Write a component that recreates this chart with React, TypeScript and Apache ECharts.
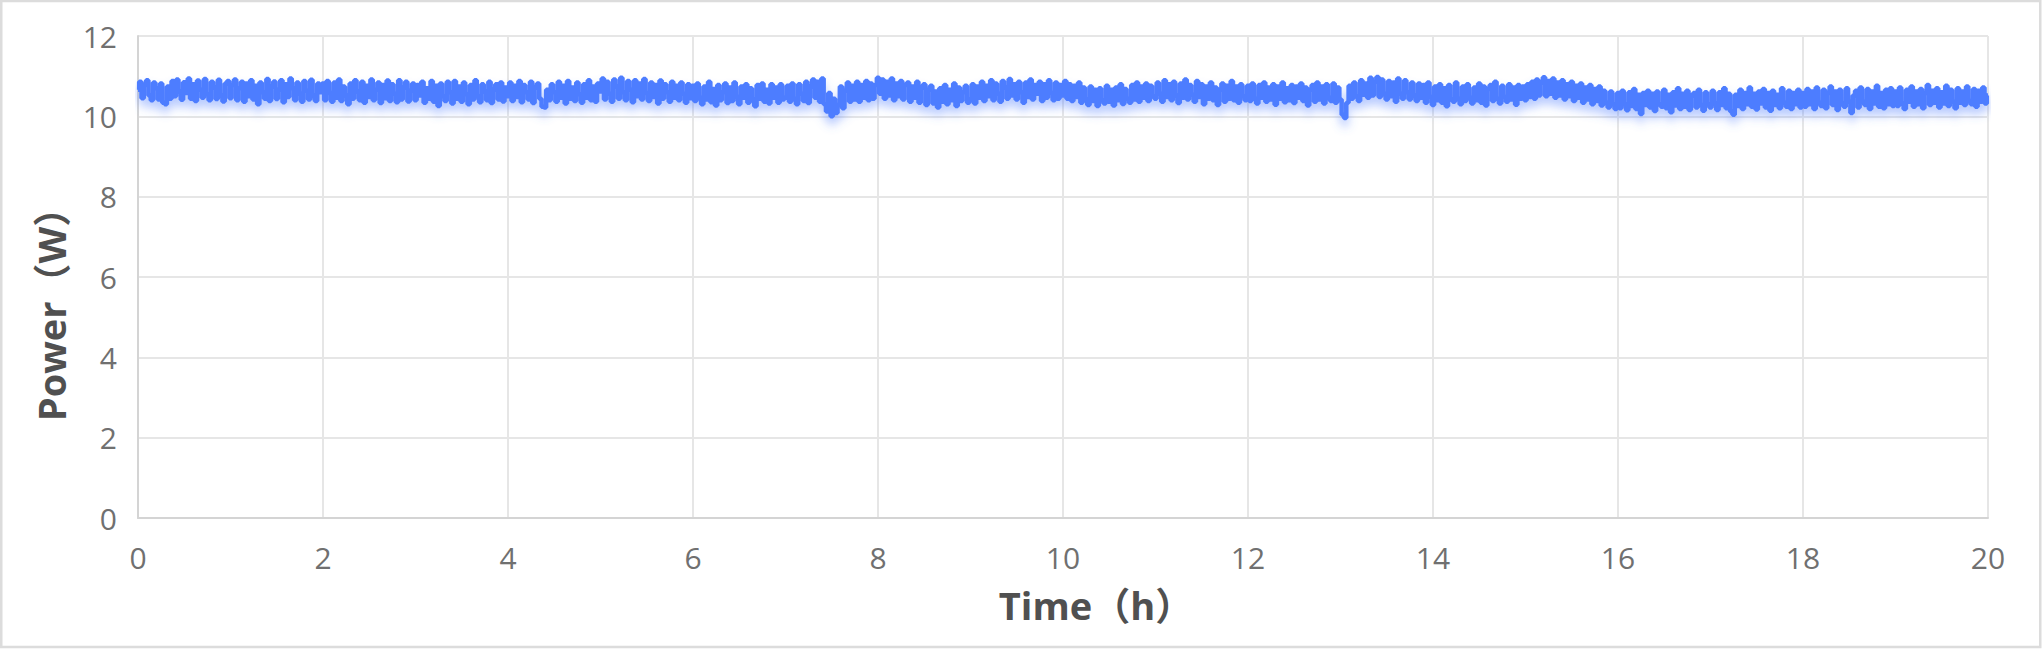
import React, { useEffect, useRef } from "react";
import * as echarts from "echarts";

// Sampling step of the record, in hours (40 samples per hour)
const STEP_H = 0.025;

// Power readings (W), one row per hour
const h00 = [10.66,10.86,10.45,10.78,10.90,10.52,10.40,10.84,10.70,10.42,10.82,10.34,10.30,10.74,10.44,10.88,10.50,10.92,10.62,10.41,
  10.85,10.58,10.94,10.44,10.80,10.38,10.89,10.66,10.46,10.93,10.55,10.40,10.86,10.72,10.43,10.91,10.52,10.37,10.82,10.88];
const h01 = [10.45,10.78,10.92,10.40,10.70,10.86,10.36,10.82,10.50,10.90,10.42,10.76,10.30,10.84,10.60,10.44,10.93,10.38,10.74,10.87,
  10.43,10.66,10.90,10.35,10.80,10.48,10.94,10.70,10.40,10.84,10.56,10.36,10.88,10.64,10.42,10.91,10.52,10.38,10.82,10.60];
const h02 = [10.82,10.40,10.88,10.58,10.36,10.84,10.46,10.92,10.38,10.74,10.52,10.30,10.82,10.44,10.90,10.62,10.40,10.86,10.34,10.76,
  10.48,10.92,10.40,10.66,10.84,10.33,10.78,10.45,10.89,10.38,10.80,10.56,10.35,10.90,10.42,10.72,10.86,10.37,10.64,10.82];
const h03 = [10.40,10.78,10.52,10.86,10.34,10.70,10.44,10.88,10.36,10.76,10.26,10.82,10.50,10.38,10.86,10.60,10.32,10.88,10.44,10.74,
  10.36,10.84,10.55,10.30,10.78,10.42,10.90,10.50,10.35,10.80,10.62,10.40,10.86,10.33,10.66,10.80,10.42,10.84,10.37,10.72];
const h04 = [10.50,10.84,10.38,10.76,10.48,10.88,10.35,10.78,10.60,10.42,10.86,10.33,10.72,10.82,10.44,10.24,10.22,10.66,10.40,10.80,
  10.60,10.36,10.86,10.46,10.76,10.32,10.88,10.44,10.72,10.38,10.84,10.55,10.34,10.80,10.46,10.90,10.40,10.74,10.36,10.82];
const h05 = [10.62,10.94,10.42,10.86,10.56,10.36,10.92,10.74,10.44,10.96,10.60,10.40,10.88,10.66,10.35,10.90,10.50,10.82,10.42,10.93,
  10.58,10.38,10.84,10.48,10.78,10.32,10.89,10.44,10.80,10.60,10.36,10.86,10.46,10.76,10.40,10.84,10.56,10.34,10.80,10.45];
const h06 = [10.76,10.38,10.82,10.46,10.30,10.74,10.42,10.86,10.35,10.68,10.27,10.78,10.40,10.60,10.82,10.33,10.72,10.38,10.84,10.48,
  10.30,10.74,10.46,10.80,10.34,10.70,10.42,10.25,10.78,10.44,10.82,10.36,10.66,10.32,10.80,10.46,10.72,10.34,10.80,10.42];
const h07 = [10.46,10.76,10.36,10.82,10.44,10.30,10.80,10.56,10.38,10.86,10.33,10.74,10.92,10.46,10.86,10.36,10.94,10.30,10.12,10.58,
  10.00,10.44,10.08,10.28,10.74,10.20,10.64,10.84,10.36,10.76,10.42,10.86,10.36,10.78,10.46,10.88,10.40,10.82,10.44,10.78];
const h08 = [10.96,10.56,10.92,10.44,10.86,10.52,10.94,10.40,10.82,10.50,10.88,10.42,10.78,10.84,10.36,10.74,10.46,10.86,10.34,10.72,
  10.80,10.28,10.66,10.76,10.32,10.62,10.22,10.70,10.36,10.78,10.30,10.66,10.40,10.82,10.26,10.72,10.38,10.60,10.76,10.34];
const h09 = [10.42,10.80,10.32,10.74,10.46,10.86,10.38,10.76,10.50,10.90,10.40,10.82,10.56,10.36,10.88,10.72,10.44,10.93,10.52,10.80,
  10.42,10.86,10.60,10.34,10.84,10.48,10.92,10.42,10.78,10.56,10.86,10.38,10.80,10.46,10.90,10.58,10.40,10.84,10.44,10.78];
const h10 = [10.52,10.88,10.44,10.80,10.38,10.76,10.48,10.84,10.34,10.72,10.42,10.28,10.74,10.38,10.66,10.26,10.70,10.40,10.32,10.76,
  10.36,10.66,10.27,10.72,10.40,10.80,10.31,10.68,10.44,10.34,10.78,10.42,10.84,10.36,10.74,10.46,10.82,10.38,10.76,10.50];
const h11 = [10.44,10.84,10.56,10.36,10.90,10.48,10.80,10.40,10.86,10.52,10.33,10.82,10.46,10.92,10.42,10.78,10.54,10.36,10.88,10.48,
  10.80,10.30,10.74,10.44,10.84,10.40,10.72,10.28,10.66,10.82,10.36,10.76,10.44,10.88,10.40,10.74,10.34,10.80,10.50,10.40];
const h12 = [10.76,10.38,10.82,10.44,10.32,10.78,10.46,10.84,10.36,10.72,10.42,10.80,10.29,10.74,10.44,10.84,10.35,10.70,10.40,10.78,
  10.33,10.74,10.46,10.82,10.38,10.72,10.27,10.66,10.78,10.36,10.84,10.42,10.74,10.32,10.80,10.46,10.38,10.82,10.34,10.72];
const h13 = [10.42,10.04,9.96,10.34,10.76,10.44,10.84,10.50,10.38,10.90,10.54,10.82,10.46,10.96,10.52,10.86,10.98,10.48,10.92,10.56,
  10.42,10.88,10.50,10.84,10.36,10.94,10.56,10.44,10.90,10.60,10.42,10.84,10.52,10.38,10.82,10.46,10.78,10.34,10.84,10.48];
const h14 = [10.28,10.74,10.40,10.80,10.34,10.70,10.25,10.78,10.42,10.36,10.84,10.44,10.30,10.74,10.38,10.80,10.46,10.32,10.72,10.40,
  10.82,10.34,10.74,10.27,10.68,10.78,10.38,10.86,10.44,10.32,10.76,10.48,10.36,10.80,10.42,10.72,10.29,10.78,10.44,10.74];
const h15 = [10.40,10.80,10.48,10.86,10.44,10.92,10.52,10.84,10.97,10.50,10.88,10.56,10.94,10.46,10.84,10.52,10.90,10.42,10.80,10.50,
  10.86,10.38,10.76,10.46,10.82,10.34,10.72,10.42,10.78,10.30,10.68,10.38,10.74,10.27,10.64,10.34,10.22,10.62,10.30,10.18];
const h16 = [10.58,10.20,10.64,10.30,10.15,10.60,10.26,10.68,10.18,10.54,10.06,10.58,10.28,10.64,10.22,10.56,10.13,10.62,10.30,10.24,
  10.66,10.20,10.54,10.10,10.60,10.27,10.70,10.18,10.56,10.24,10.64,10.16,10.52,10.58,10.22,10.66,10.28,10.14,10.60,10.30];
const h17 = [10.22,10.64,10.32,10.16,10.60,10.28,10.70,10.20,10.56,10.12,10.04,10.54,10.26,10.66,10.18,10.58,10.30,10.72,10.24,10.56,
  10.17,10.62,10.32,10.68,10.22,10.58,10.14,10.64,10.28,10.54,10.20,10.70,10.34,10.24,10.64,10.18,10.58,10.30,10.66,10.22];
const h18 = [10.58,10.24,10.68,10.30,10.62,10.18,10.72,10.34,10.26,10.66,10.20,10.58,10.74,10.28,10.62,10.16,10.66,10.32,10.24,10.70,
  10.36,10.08,10.52,10.64,10.22,10.72,10.36,10.28,10.68,10.18,10.62,10.32,10.76,10.24,10.58,10.20,10.66,10.30,10.70,10.26];
const h19 = [10.62,10.26,10.72,10.32,10.18,10.66,10.36,10.74,10.24,10.62,10.30,10.68,10.20,10.58,10.78,10.28,10.64,10.34,10.70,10.22,
  10.60,10.32,10.76,10.26,10.66,10.36,10.20,10.70,10.34,10.62,10.28,10.74,10.38,10.30,10.68,10.24,10.64,10.36,10.72,10.32];
const h20 = [10.52];

const hours = [h00,h01,h02,h03,h04,h05,h06,h07,h08,h09,h10,h11,h12,h13,h14,h15,h16,h17,h18,h19,h20];

// Axis settings
const X_MIN = 0, X_MAX = 20, X_STEP = 2;
const Y_MIN = 0, Y_MAX = 12, Y_STEP = 2;
const X_NAME = "Time（h）";
const Y_NAME = "Power（W）";

export default function App() {
  const ref = useRef<HTMLDivElement>(null);

  useEffect(() => {
    if (!ref.current) return;
    const chart = echarts.init(ref.current, undefined, { renderer: "svg" });

    const data: [number, number][] = [];
    hours.forEach((row, h) => {
      row.forEach((v, i) => {
        data.push([+(h + i * STEP_H).toFixed(3), v]);
      });
    });

    const labelFont = "'Open Sans', 'Noto Sans CJK SC', sans-serif";

    chart.setOption({
      animation: false,
      backgroundColor: "#ffffff",
      grid: { left: 138, top: 36, right: 55, bottom: 146, containLabel: false },
      graphic: [
        {
          type: "rect",
          shape: { x: 1.25, y: 1, width: 2039, height: 646 },
          style: { fill: "none", stroke: "#dcdcdc", lineWidth: 2.5 },
          silent: true,
        },
      ],
      xAxis: {
        type: "value",
        min: X_MIN,
        max: X_MAX,
        interval: X_STEP,
        name: X_NAME,
        nameLocation: "middle",
        nameGap: 68,
        nameTextStyle: {
          fontSize: 38,
          fontWeight: "bold",
          color: "#505050",
          fontFamily: labelFont,
          padding: [0, 0, 0, 66],
        },
        axisLine: { show: true, lineStyle: { color: "#d4d4d4", width: 2 } },
        axisTick: { show: false },
        axisLabel: { fontSize: 30, color: "#707070", margin: 24, fontFamily: labelFont },
        splitLine: { show: true, lineStyle: { color: "#e6e6e6", width: 2 } },
      },
      yAxis: {
        type: "value",
        min: Y_MIN,
        max: Y_MAX,
        interval: Y_STEP,
        name: Y_NAME,
        nameLocation: "middle",
        nameGap: 68,
        nameTextStyle: {
          fontSize: 38,
          fontWeight: "bold",
          color: "#505050",
          fontFamily: labelFont,
          padding: [0, 56, 0, 0],
        },
        axisLine: { show: true, lineStyle: { color: "#d4d4d4", width: 2 } },
        axisTick: { show: false },
        axisLabel: { fontSize: 30, color: "#707070", margin: 21, fontFamily: labelFont },
        splitLine: { show: true, lineStyle: { color: "#e6e6e6", width: 2 } },
      },
      series: [
        {
          type: "line",
          data,
          step: "middle",
          showSymbol: false,
          lineStyle: {
            color: "#4d7dff",
            width: 4.5,
            shadowColor: "rgba(77,125,255,0.4)",
            shadowBlur: 10,
            shadowOffsetY: 7,
          },
          itemStyle: { color: "#4d7dff" },
        },
      ],
    });

    return () => chart.dispose();
  }, []);

  return (
    <div
      ref={ref}
      style={{ position: "fixed", left: 0, top: 0, width: 2043, height: 664 }}
    />
  );
}
